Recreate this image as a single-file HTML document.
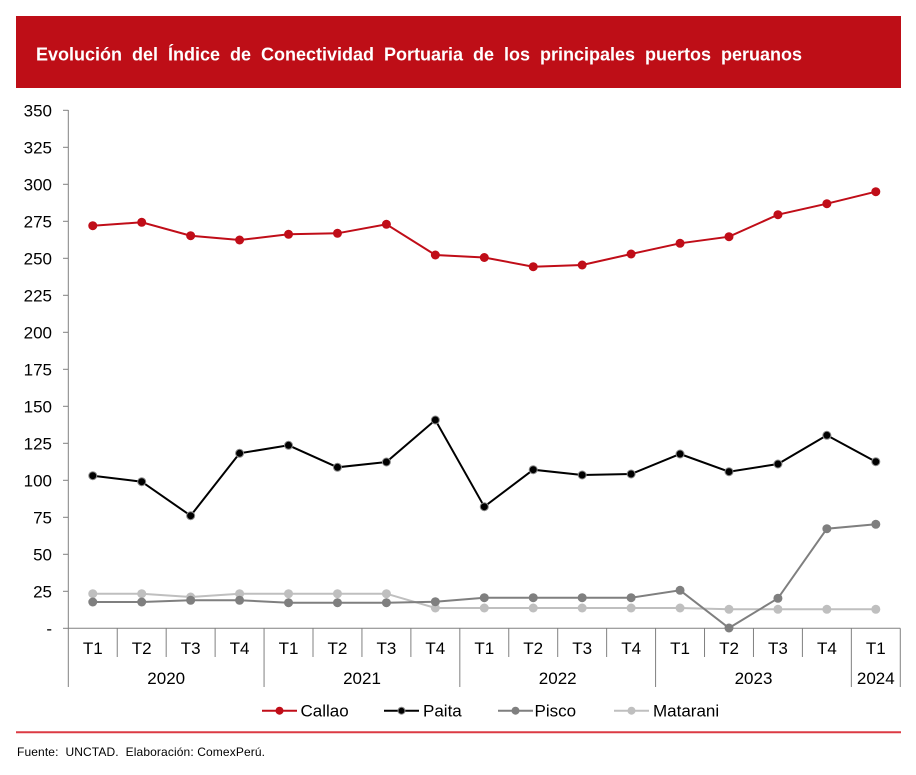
<!DOCTYPE html>
<html>
<head>
<meta charset="utf-8">
<style>
html,body{margin:0;padding:0;background:#fff;}
svg{display:block;}
text{font-family:"Liberation Sans",Arial,sans-serif;}
</style>
</head>
<body>
<svg width="916" height="775" viewBox="0 0 916 775" xmlns="http://www.w3.org/2000/svg">
<rect x="0" y="0" width="916" height="775" fill="#ffffff"/>
<!-- Header -->
<rect x="16" y="16" width="885" height="72" fill="#BE0E17"/>
<text x="36" y="60.7" font-size="18" font-weight="bold" fill="#ffffff" word-spacing="5" textLength="766" lengthAdjust="spacing">Evolución del Índice de Conectividad Portuaria de los principales puertos peruanos</text>

<!-- Y axis -->
<g stroke="#808080" stroke-width="1" fill="none">
<line x1="68.3" y1="110" x2="68.3" y2="687"/>
<line x1="68.3" y1="628.3" x2="900.3" y2="628.3"/>
<line x1="63" y1="628.3" x2="68.3" y2="628.3"/>
<line x1="63" y1="591.3" x2="68.3" y2="591.3"/>
<line x1="63" y1="554.3" x2="68.3" y2="554.3"/>
<line x1="63" y1="517.3" x2="68.3" y2="517.3"/>
<line x1="63" y1="480.3" x2="68.3" y2="480.3"/>
<line x1="63" y1="443.3" x2="68.3" y2="443.3"/>
<line x1="63" y1="406.3" x2="68.3" y2="406.3"/>
<line x1="63" y1="369.3" x2="68.3" y2="369.3"/>
<line x1="63" y1="332.3" x2="68.3" y2="332.3"/>
<line x1="63" y1="295.3" x2="68.3" y2="295.3"/>
<line x1="63" y1="258.3" x2="68.3" y2="258.3"/>
<line x1="63" y1="221.3" x2="68.3" y2="221.3"/>
<line x1="63" y1="184.3" x2="68.3" y2="184.3"/>
<line x1="63" y1="147.3" x2="68.3" y2="147.3"/>
<line x1="63" y1="110.3" x2="68.3" y2="110.3"/>
<!-- category separators -->
<line x1="117.24" y1="628.3" x2="117.24" y2="657"/>
<line x1="166.18" y1="628.3" x2="166.18" y2="657"/>
<line x1="215.12" y1="628.3" x2="215.12" y2="657"/>
<line x1="264.06" y1="628.3" x2="264.06" y2="687"/>
<line x1="313" y1="628.3" x2="313" y2="657"/>
<line x1="361.94" y1="628.3" x2="361.94" y2="657"/>
<line x1="410.88" y1="628.3" x2="410.88" y2="657"/>
<line x1="459.82" y1="628.3" x2="459.82" y2="687"/>
<line x1="508.76" y1="628.3" x2="508.76" y2="657"/>
<line x1="557.7" y1="628.3" x2="557.7" y2="657"/>
<line x1="606.64" y1="628.3" x2="606.64" y2="657"/>
<line x1="655.58" y1="628.3" x2="655.58" y2="687"/>
<line x1="704.52" y1="628.3" x2="704.52" y2="657"/>
<line x1="753.46" y1="628.3" x2="753.46" y2="657"/>
<line x1="802.4" y1="628.3" x2="802.4" y2="657"/>
<line x1="851.34" y1="628.3" x2="851.34" y2="687"/>
<line x1="900.28" y1="628.3" x2="900.28" y2="687"/>
</g>

<!-- Y labels -->
<g font-size="17" fill="#000" text-anchor="end">
<text x="52" y="634.5">-</text>
<text x="52" y="597.3">25</text>
<text x="52" y="560.3">50</text>
<text x="52" y="523.3">75</text>
<text x="52" y="486.3">100</text>
<text x="52" y="449.3">125</text>
<text x="52" y="412.3">150</text>
<text x="52" y="375.3">175</text>
<text x="52" y="338.3">200</text>
<text x="52" y="301.3">225</text>
<text x="52" y="264.3">250</text>
<text x="52" y="227.3">275</text>
<text x="52" y="190.3">300</text>
<text x="52" y="153.3">325</text>
<text x="52" y="116.3">350</text>
</g>

<!-- X labels -->
<g font-size="17" fill="#000" text-anchor="middle">
<text x="92.77" y="654">T1</text>
<text x="141.71" y="654">T2</text>
<text x="190.65" y="654">T3</text>
<text x="239.59" y="654">T4</text>
<text x="288.53" y="654">T1</text>
<text x="337.47" y="654">T2</text>
<text x="386.41" y="654">T3</text>
<text x="435.35" y="654">T4</text>
<text x="484.29" y="654">T1</text>
<text x="533.23" y="654">T2</text>
<text x="582.17" y="654">T3</text>
<text x="631.11" y="654">T4</text>
<text x="680.05" y="654">T1</text>
<text x="728.99" y="654">T2</text>
<text x="777.93" y="654">T3</text>
<text x="826.87" y="654">T4</text>
<text x="875.81" y="654">T1</text>
<text x="166.2" y="684">2020</text>
<text x="362" y="684">2021</text>
<text x="557.7" y="684">2022</text>
<text x="753.5" y="684">2023</text>
<text x="875.8" y="684">2024</text>
</g>

<!-- Matarani -->
<polyline fill="none" stroke="#BFBFBF" stroke-width="2" points="92.77,593.7 141.71,593.7 190.65,597 239.59,593.7 288.53,593.7 337.47,593.7 386.41,593.7 435.35,608 484.29,608 533.23,608 582.17,608 631.11,608 680.05,608 728.99,609.3 777.93,609.3 826.87,609.3 875.81,609.3"/>
<g fill="#BFBFBF">
<circle cx="92.77" cy="593.7" r="4.5"/><circle cx="141.71" cy="593.7" r="4.5"/><circle cx="190.65" cy="597" r="4.5"/><circle cx="239.59" cy="593.7" r="4.5"/><circle cx="288.53" cy="593.7" r="4.5"/><circle cx="337.47" cy="593.7" r="4.5"/><circle cx="386.41" cy="593.7" r="4.5"/><circle cx="435.35" cy="608" r="4.5"/><circle cx="484.29" cy="608" r="4.5"/><circle cx="533.23" cy="608" r="4.5"/><circle cx="582.17" cy="608" r="4.5"/><circle cx="631.11" cy="608" r="4.5"/><circle cx="680.05" cy="608" r="4.5"/><circle cx="728.99" cy="609.3" r="4.5"/><circle cx="777.93" cy="609.3" r="4.5"/><circle cx="826.87" cy="609.3" r="4.5"/><circle cx="875.81" cy="609.3" r="4.5"/>
</g>

<!-- Pisco -->
<polyline fill="none" stroke="#7F7F7F" stroke-width="2" points="92.77,602 141.71,602 190.65,600.3 239.59,600.3 288.53,602.7 337.47,602.7 386.41,602.7 435.35,601.7 484.29,597.7 533.23,597.7 582.17,597.7 631.11,597.7 680.05,590.3 728.99,628 777.93,598.3 826.87,528.7 875.81,524.3"/>
<g fill="#7F7F7F">
<circle cx="92.77" cy="602" r="4.5"/><circle cx="141.71" cy="602" r="4.5"/><circle cx="190.65" cy="600.3" r="4.5"/><circle cx="239.59" cy="600.3" r="4.5"/><circle cx="288.53" cy="602.7" r="4.5"/><circle cx="337.47" cy="602.7" r="4.5"/><circle cx="386.41" cy="602.7" r="4.5"/><circle cx="435.35" cy="601.7" r="4.5"/><circle cx="484.29" cy="597.7" r="4.5"/><circle cx="533.23" cy="597.7" r="4.5"/><circle cx="582.17" cy="597.7" r="4.5"/><circle cx="631.11" cy="597.7" r="4.5"/><circle cx="680.05" cy="590.3" r="4.5"/><circle cx="728.99" cy="628" r="4.5"/><circle cx="777.93" cy="598.3" r="4.5"/><circle cx="826.87" cy="528.7" r="4.5"/><circle cx="875.81" cy="524.3" r="4.5"/>
</g>

<!-- Paita -->
<polyline fill="none" stroke="#000000" stroke-width="2" points="92.77,475.7 141.71,481.7 190.65,515.7 239.59,453.3 288.53,445.3 337.47,467.3 386.41,462 435.35,420 484.29,506.7 533.23,469.7 582.17,475 631.11,474 680.05,454 728.99,471.7 777.93,464 826.87,435.3 875.81,461.7"/>
<g fill="#000000" stroke="#8a8a8a" stroke-width="1">
<circle cx="92.77" cy="475.7" r="4"/><circle cx="141.71" cy="481.7" r="4"/><circle cx="190.65" cy="515.7" r="4"/><circle cx="239.59" cy="453.3" r="4"/><circle cx="288.53" cy="445.3" r="4"/><circle cx="337.47" cy="467.3" r="4"/><circle cx="386.41" cy="462" r="4"/><circle cx="435.35" cy="420" r="4"/><circle cx="484.29" cy="506.7" r="4"/><circle cx="533.23" cy="469.7" r="4"/><circle cx="582.17" cy="475" r="4"/><circle cx="631.11" cy="474" r="4"/><circle cx="680.05" cy="454" r="4"/><circle cx="728.99" cy="471.7" r="4"/><circle cx="777.93" cy="464" r="4"/><circle cx="826.87" cy="435.3" r="4"/><circle cx="875.81" cy="461.7" r="4"/>
</g>

<!-- Callao -->
<polyline fill="none" stroke="#C00D18" stroke-width="2" points="92.77,225.7 141.71,222.3 190.65,235.7 239.59,240 288.53,234.3 337.47,233.3 386.41,224.3 435.35,255 484.29,257.5 533.23,266.7 582.17,265 631.11,254 680.05,243.3 728.99,236.7 777.93,214.7 826.87,203.7 875.81,191.7"/>
<g fill="#C00D18">
<circle cx="92.77" cy="225.7" r="4.5"/><circle cx="141.71" cy="222.3" r="4.5"/><circle cx="190.65" cy="235.7" r="4.5"/><circle cx="239.59" cy="240" r="4.5"/><circle cx="288.53" cy="234.3" r="4.5"/><circle cx="337.47" cy="233.3" r="4.5"/><circle cx="386.41" cy="224.3" r="4.5"/><circle cx="435.35" cy="255" r="4.5"/><circle cx="484.29" cy="257.5" r="4.5"/><circle cx="533.23" cy="266.7" r="4.5"/><circle cx="582.17" cy="265" r="4.5"/><circle cx="631.11" cy="254" r="4.5"/><circle cx="680.05" cy="243.3" r="4.5"/><circle cx="728.99" cy="236.7" r="4.5"/><circle cx="777.93" cy="214.7" r="4.5"/><circle cx="826.87" cy="203.7" r="4.5"/><circle cx="875.81" cy="191.7" r="4.5"/>
</g>

<!-- Legend -->
<line x1="262" y1="710.7" x2="297" y2="710.7" stroke="#C00D18" stroke-width="2"/>
<circle cx="279.5" cy="710.7" r="4" fill="#C00D18"/>
<text x="300.5" y="716.7" font-size="17" fill="#000">Callao</text>

<line x1="384" y1="710.7" x2="419" y2="710.7" stroke="#000" stroke-width="2"/>
<circle cx="401.5" cy="710.7" r="3.5" fill="#000" stroke="#8a8a8a" stroke-width="1"/>
<text x="423" y="716.7" font-size="17" fill="#000">Paita</text>

<line x1="498" y1="710.7" x2="533" y2="710.7" stroke="#7F7F7F" stroke-width="2"/>
<circle cx="515.5" cy="710.7" r="4" fill="#7F7F7F"/>
<text x="534.5" y="716.7" font-size="17" fill="#000">Pisco</text>

<line x1="614" y1="710.7" x2="649" y2="710.7" stroke="#BFBFBF" stroke-width="2"/>
<circle cx="631.5" cy="710.7" r="4" fill="#BFBFBF"/>
<text x="653" y="716.7" font-size="17" fill="#000">Matarani</text>

<!-- Separator -->
<line x1="16" y1="732.3" x2="901" y2="732.3" stroke="#DC3A44" stroke-width="2"/>

<!-- Footer -->
<text x="17" y="756" font-size="12" fill="#000" xml:space="preserve" style="white-space:pre" textLength="248" lengthAdjust="spacing">Fuente:  UNCTAD.  Elaboración: ComexPerú.</text>
</svg>
</body>
</html>
